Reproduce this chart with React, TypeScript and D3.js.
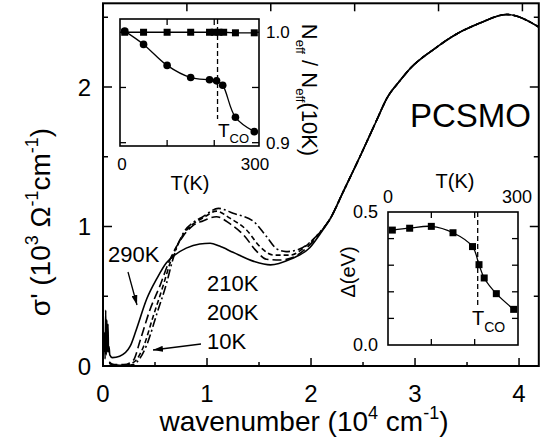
import React from "react";
import * as d3 from "d3";

// main panel: wavenumber (10^4 cm^-1) vs sigma' (10^3 Ohm^-1 cm^-1)
const xTicks = [0, 1, 2, 3, 4];
const xMinor = [0.5, 1.5, 2.5, 3.5];
const yTicks = [0, 1, 2];
const yMinor = [0.5, 1.5, 2.5];
const eVTicks = [1, 2, 3, 4, 5]; // top axis, photon energy in eV
const CM_PER_EV = 0.8065;

const phonons290 = [
  [0.008, 0.1], [0.015, 0.24], [0.02, 0.05], [0.026, 0.4], [0.031, 0.08],
  [0.037, 0.33], [0.042, 0.1], [0.048, 0.3], [0.053, 0.1], [0.058, 0.14],
];
const sigma290 = [
  [0.065, 0.08], [0.09, 0.06], [0.16, 0.07], [0.26, 0.14], [0.32, 0.26],
  [0.42, 0.48], [0.52, 0.63], [0.61, 0.74], [0.68, 0.79], [0.8, 0.845],
  [0.93, 0.875], [1.03, 0.88], [1.12, 0.86], [1.25, 0.815], [1.45, 0.75],
  [1.61, 0.725], [1.8, 0.765], [1.99, 0.85], [2.1, 0.96],
];
const sigma210 = [
  [0.06, 0.03], [0.1, 0.01], [0.2, 0.01], [0.29, 0.04], [0.36, 0.19],
  [0.45, 0.4], [0.55, 0.58], [0.63, 0.74], [0.77, 0.93], [0.87, 1.01],
  [0.96, 1.04], [1.09, 1.07], [1.22, 1.02], [1.35, 0.94], [1.48, 0.82],
  [1.57, 0.765], [1.7, 0.76], [1.83, 0.78], [1.99, 0.87], [2.1, 0.97],
];
const sigma200 = [
  [0.06, 0.02], [0.1, 0.01], [0.2, 0.005], [0.3, 0.03], [0.39, 0.14],
  [0.48, 0.35], [0.58, 0.58], [0.65, 0.75], [0.77, 0.94], [0.87, 1.02],
  [0.96, 1.06], [1.09, 1.11], [1.22, 1.06], [1.38, 0.975], [1.51, 0.855],
  [1.64, 0.795], [1.8, 0.795], [1.95, 0.86], [2.1, 0.97],
];
const sigma10 = [
  [0.06, 0.02], [0.1, 0.005], [0.2, 0.0], [0.29, 0.01], [0.35, 0.05],
  [0.42, 0.15], [0.52, 0.38], [0.61, 0.59], [0.67, 0.76], [0.77, 0.95],
  [0.87, 1.03], [0.96, 1.07], [1.11, 1.13], [1.25, 1.095], [1.45, 1.035],
  [1.57, 0.93], [1.67, 0.84], [1.76, 0.82], [1.86, 0.83], [2.05, 0.93],
  [2.12, 0.99],
];
// all temperatures coincide above ~2.2
const sigmaHigh = [
  [2.18, 1.05], [2.31, 1.25], [2.47, 1.5], [2.63, 1.76], [2.73, 1.92],
  [2.86, 2.05], [2.95, 2.13], [3.18, 2.27], [3.4, 2.38], [3.63, 2.46],
  [3.88, 2.52], [4.19, 2.43],
];

// inset 1: Neff / Neff(10K)
const neffTempsSq = [10, 50, 100, 150, 190, 200, 210, 220, 245, 285];
const neffSq = [1.0, 1.0, 1.0, 1.0, 1.0, 1.0, 1.0, 1.0, 0.9995, 0.9995];
const neffTempsCirc = [10, 50, 100, 150, 190, 205, 218, 245, 285];
const neffCirc = [1.001, 0.989, 0.97, 0.959, 0.957, 0.956, 0.952, 0.923, 0.91];

// inset 2: gap Delta (eV)
const gapTemps = [10, 50, 100, 150, 195, 210, 222, 250, 290];
const gap = [0.432, 0.439, 0.446, 0.422, 0.37, 0.302, 0.252, 0.193, 0.134];

const T_CO = 207;

const FONT = "Liberation Sans, Arial, Helvetica, sans-serif";

export default function App() {
  const x = d3.scaleLinear().domain([0, 4.19]).range([103, 538.8]);
  const y = d3.scaleLinear().domain([0, 2.6]).range([366, 3.3]);

  const line = d3
    .line<number[]>()
    .x((d) => x(d[0]))
    .y((d) => y(d[1]))
    .curve(d3.curveMonotoneX);

  const series = [
    { name: "290K", data: [...phonons290, ...sigma290, ...sigmaHigh], dash: undefined },
    { name: "210K", data: [...sigma210, ...sigmaHigh], dash: "9,4" },
    { name: "200K", data: [...sigma200, ...sigmaHigh], dash: "5,3" },
    { name: "10K", data: [...sigma10, ...sigmaHigh], dash: "9,3,2,3" },
  ];

  // inset 1 scales
  const x1 = d3.scaleLinear().domain([0, 295]).range([120, 259]);
  const y1 = d3.scaleLinear().domain([0.897, 1.012]).range([146, 19]);
  const circLine = d3
    .line<number>()
    .x((d, i) => x1(neffTempsCirc[i]))
    .y((d) => y1(d))
    .curve(d3.curveCatmullRom);
  const sqLine = d3
    .line<number>()
    .x((d, i) => x1(neffTempsSq[i]))
    .y((d) => y1(d));

  // inset 2 scales
  const x2 = d3.scaleLinear().domain([0, 300]).range([388, 518]);
  const y2 = d3.scaleLinear().domain([0, 0.5]).range([345, 212]);
  const gapLine = d3
    .line<number>()
    .x((d, i) => x2(gapTemps[i]))
    .y((d) => y2(d))
    .curve(d3.curveCatmullRom);

  const [L, R] = x.range();
  const [B, T] = y.range();

  return (
    <svg
      width={548}
      height={448}
      style={{ position: "absolute", left: 0, top: 0, background: "#fff" }}
      fontFamily={FONT}
    >
      <defs>
        <marker id="arr" viewBox="0 0 10 6" refX="10" refY="3" markerWidth="10" markerHeight="6" markerUnits="userSpaceOnUse" orient="auto">
          <path d="M0,0 L10,3 L0,6 Z" fill="#000" />
        </marker>
      </defs>

      {/* curves */}
      {series.map((s) => (
        <path
          key={s.name}
          d={line(s.data) || ""}
          fill="none"
          stroke="#000"
          strokeWidth={1.6}
          strokeDasharray={s.dash}
        />
      ))}

      {/* main frame */}
      <rect x={L} y={T} width={R - L} height={B - T} fill="none" stroke="#000" strokeWidth={2} />
      {xTicks.map((t) => (
        <line key={"xb" + t} x1={x(t)} x2={x(t)} y1={B} y2={B - 8} stroke="#000" strokeWidth={1.5} />
      ))}
      {xMinor.map((t) => (
        <line key={"xm" + t} x1={x(t)} x2={x(t)} y1={B} y2={B - 4} stroke="#000" strokeWidth={1.5} />
      ))}
      {eVTicks.map((t) => (
        <line key={"ev" + t} x1={x(t * CM_PER_EV)} x2={x(t * CM_PER_EV)} y1={T} y2={T + 8} stroke="#000" strokeWidth={1.5} />
      ))}
      {yTicks.map((t) => (
        <g key={"y" + t}>
          <line x1={L} x2={L + 9} y1={y(t)} y2={y(t)} stroke="#000" strokeWidth={1.5} />
          <line x1={R} x2={R - 9} y1={y(t)} y2={y(t)} stroke="#000" strokeWidth={1.5} />
        </g>
      ))}
      {yMinor.map((t) => (
        <g key={"ym" + t}>
          <line x1={L} x2={L + 5} y1={y(t)} y2={y(t)} stroke="#000" strokeWidth={1.5} />
          <line x1={R} x2={R - 5} y1={y(t)} y2={y(t)} stroke="#000" strokeWidth={1.5} />
        </g>
      ))}
      {xTicks.map((t) => (
        <text key={"xl" + t} x={x(t)} y={402} fontSize={24} textAnchor="middle">{t}</text>
      ))}
      {yTicks.map((t) => (
        <text key={"yl" + t} x={91} y={y(t) + 8.5} fontSize={24} textAnchor="end">{t}</text>
      ))}

      {/* axis titles */}
      <text x={304} y={431} fontSize={28} textAnchor="middle">
        wavenumber (10
        <tspan fontSize={18} dy={-12}>4</tspan>
        <tspan dy={12}> cm</tspan>
        <tspan fontSize={18} dy={-12}>-1</tspan>
        <tspan dy={12}>)</tspan>
      </text>
      <text transform="translate(50,222) rotate(-90)" fontSize={28} textAnchor="middle">
        σ' (10
        <tspan fontSize={18} dy={-12}>3</tspan>
        <tspan dy={12}> Ω</tspan>
        <tspan fontSize={18} dy={-12}>-1</tspan>
        <tspan dy={12}>cm</tspan>
        <tspan fontSize={18} dy={-12}>-1</tspan>
        <tspan dy={12}>)</tspan>
      </text>

      <text x={531} y={127} fontSize={33} textAnchor="end">PCSMO</text>

      {/* curve labels */}
      <text x={108} y={262} fontSize={22}>290K</text>
      <text x={207} y={291} fontSize={22}>210K</text>
      <text x={207} y={320} fontSize={22}>200K</text>
      <text x={207} y={349} fontSize={22}>10K</text>
      <line x1={128} y1={272} x2={137} y2={305} stroke="#000" strokeWidth={1.3} markerEnd="url(#arr)" />
      <line x1={201} y1={344} x2={153} y2={350} stroke="#000" strokeWidth={1.3} markerEnd="url(#arr)" />

      {/* inset 1: Neff */}
      <rect x={120} y={19} width={139} height={127} fill="#fff" stroke="#000" strokeWidth={1.6} />
      {[100, 200].map((t) => (
        <g key={"i1x" + t}>
          <line x1={x1(t)} x2={x1(t)} y1={146} y2={140} stroke="#000" strokeWidth={1.3} />
          <line x1={x1(t)} x2={x1(t)} y1={19} y2={25} stroke="#000" strokeWidth={1.3} />
        </g>
      ))}
      {[0.9, 0.95, 1.0].map((t) => (
        <g key={"i1y" + t}>
          <line x1={259} x2={252} y1={y1(t)} y2={y1(t)} stroke="#000" strokeWidth={1.3} />
          <line x1={120} x2={126} y1={y1(t)} y2={y1(t)} stroke="#000" strokeWidth={1.3} />
        </g>
      ))}
      <line x1={x1(T_CO)} x2={x1(T_CO)} y1={19} y2={119} stroke="#000" strokeWidth={1.3} strokeDasharray="5,3" />
      <path d={sqLine(neffSq) || ""} fill="none" stroke="#000" strokeWidth={1.3} />
      <path d={circLine(neffCirc) || ""} fill="none" stroke="#000" strokeWidth={1.3} />
      {neffSq.map((v, i) => (
        <rect key={"sq" + i} x={x1(neffTempsSq[i]) - 3.5} y={y1(v) - 3.5} width={7} height={7} fill="#000" />
      ))}
      {neffCirc.map((v, i) => (
        <circle key={"c" + i} cx={x1(neffTempsCirc[i])} cy={y1(v)} r={3.8} fill="#000" />
      ))}
      <text x={218} y={137} fontSize={19}>
        T<tspan fontSize={13} dy={6}>CO</tspan>
      </text>
      <text x={122} y={170} fontSize={17} textAnchor="middle">0</text>
      <text x={255} y={170} fontSize={17} textAnchor="middle">300</text>
      <text x={190} y={190} fontSize={20} textAnchor="middle">T(K)</text>
      <text x={266} y={y1(1.0) + 6} fontSize={17}>1.0</text>
      <text x={266} y={y1(0.9) + 6} fontSize={17}>0.9</text>
      <text transform="translate(302,90) rotate(90)" fontSize={22} textAnchor="middle">
        N<tspan fontSize={13} dy={6}>eff</tspan>
        <tspan dy={-6}> / N</tspan>
        <tspan fontSize={13} dy={6}>eff</tspan>
        <tspan dy={-6}>(10K)</tspan>
      </text>

      {/* inset 2: gap */}
      <rect x={388} y={212} width={130} height={133} fill="#fff" stroke="#000" strokeWidth={1.6} />
      {[100, 200].map((t) => (
        <g key={"i2x" + t}>
          <line x1={x2(t)} x2={x2(t)} y1={345} y2={339} stroke="#000" strokeWidth={1.3} />
          <line x1={x2(t)} x2={x2(t)} y1={212} y2={218} stroke="#000" strokeWidth={1.3} />
        </g>
      ))}
      {[0.1, 0.2, 0.3, 0.4].map((t) => (
        <g key={"i2y" + t}>
          <line x1={388} x2={394} y1={y2(t)} y2={y2(t)} stroke="#000" strokeWidth={1.3} />
          <line x1={518} x2={512} y1={y2(t)} y2={y2(t)} stroke="#000" strokeWidth={1.3} />
        </g>
      ))}
      <line x1={x2(T_CO)} x2={x2(T_CO)} y1={212} y2={306} stroke="#000" strokeWidth={1.3} strokeDasharray="5,3" />
      <path d={gapLine(gap) || ""} fill="none" stroke="#000" strokeWidth={1.3} />
      {gap.map((v, i) => (
        <rect key={"g" + i} x={x2(gapTemps[i]) - 3.5} y={y2(v) - 3.5} width={7} height={7} fill="#000" />
      ))}
      <text x={472} y={325} fontSize={20}>
        T<tspan fontSize={14} dy={7}>CO</tspan>
      </text>
      <text x={388} y={203} fontSize={18} textAnchor="middle">0</text>
      <text x={517} y={203} fontSize={18} textAnchor="middle">300</text>
      <text x={455} y={188} fontSize={20} textAnchor="middle">T(K)</text>
      <text x={378} y={y2(0.5) + 6} fontSize={18} textAnchor="end">0.5</text>
      <text x={378} y={y2(0) + 6} fontSize={18} textAnchor="end">0.0</text>
      <text transform="translate(355,272) rotate(-90)" fontSize={20} textAnchor="middle">Δ(eV)</text>
    </svg>
  );
}
